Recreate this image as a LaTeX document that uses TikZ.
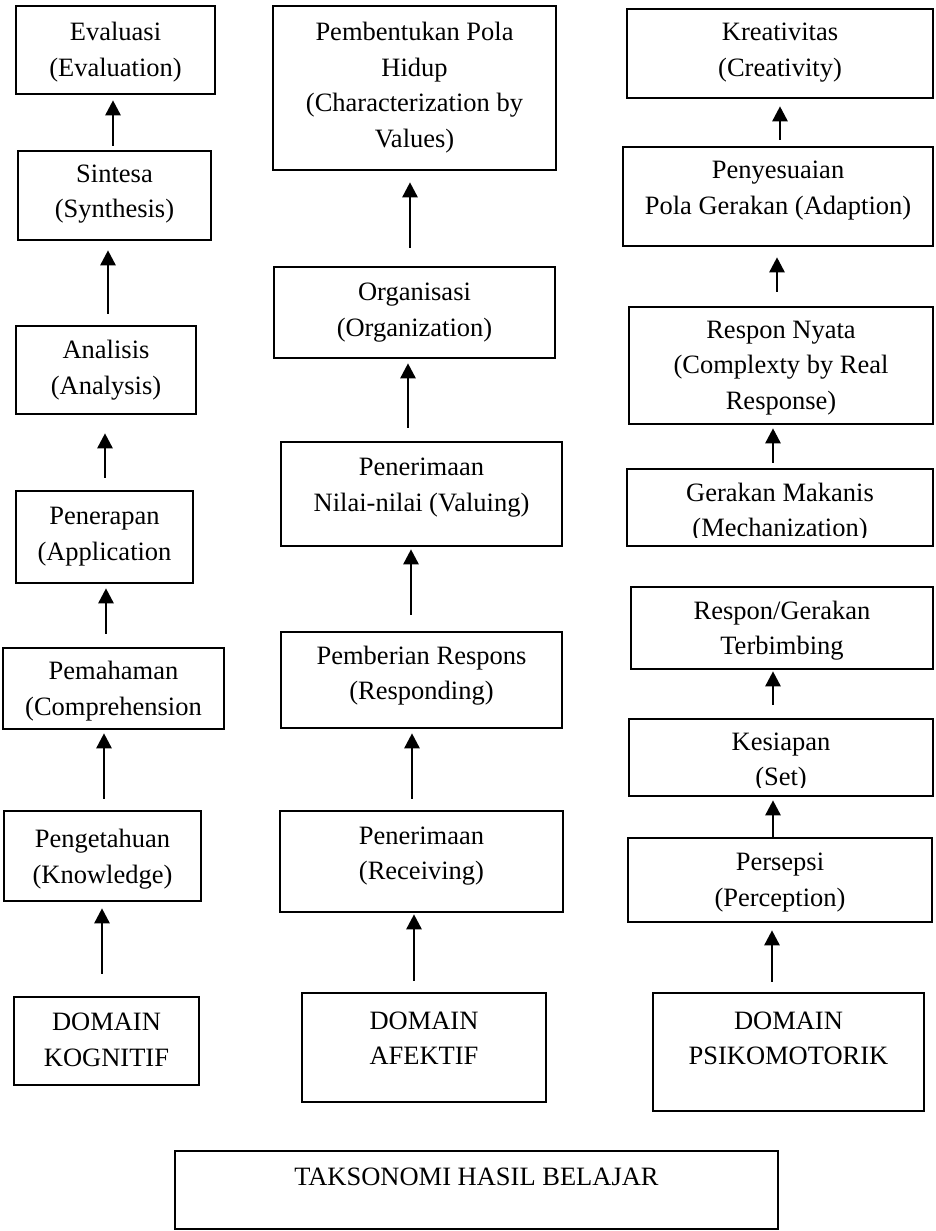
\documentclass[tikz,border=0pt]{standalone}
\usepackage{fontspec}
\setmainfont{Liberation Serif}
\usetikzlibrary{arrows.meta,fit}
\begin{document}
\begin{tikzpicture}[x=1pt,y=-1pt,
  boxst/.style={draw=black, line width=2.6pt, inner sep=0pt},
  txt/.style={inner sep=0pt, align=center, font=\fontsize{26.5}{35.5}\selectfont},
  arr/.style={line width=2.6pt, -{Triangle[length=15pt,width=15pt]}}]
\useasboundingbox (0,0) rectangle (935,1231);
% ---------- column 1 ----------
\node[boxst, fit={(16,6) (215,94)}] (eva) {};
\node[boxst, fit={(18,151) (211,240)}] (sin) {};
\node[boxst, fit={(16,326) (196,414)}] (ana) {};
\node[boxst, fit={(16,491) (193,583)}] (pen) {};
\node[boxst, fit={(3,648) (224,729)}] (pem) {};
\node[boxst, fit={(4,811) (201,901)}] (pgt) {};
\node[boxst, fit={(14,997) (199,1085)}] (dk) {};
\node[txt] (evat) at (115.5,52) {Evaluasi\\(Evaluation)};
\node[txt] (sint) at (114.5,194) {Sintesa\\(Synthesis)};
\node[txt] (anat) at (106,370) {Analisis\\(Analysis)};
\node[txt] (pent) at (104.5,536.5) {Penerapan\\(Application};
\node[txt] (pemt) at (113.5,691) {Pemahaman\\(Comprehension};
\node[txt] (pgtt) at (102.5,859) {Pengetahuan\\(Knowledge)};
\node[txt] (dkt) at (106.5,1040) {DOMAIN\\KOGNITIF};
% ---------- column 2 ----------
\node[boxst, fit={(273,6) (556,170)}] (pbh) {};
\node[boxst, fit={(274,267) (555,358)}] (org) {};
\node[boxst, fit={(281,442) (562,546)}] (pnn) {};
\node[boxst, fit={(281,632) (562,728)}] (pbr) {};
\node[boxst, fit={(280,811) (563,912)}] (prm) {};
\node[boxst, fit={(302,993) (546,1102)}] (da) {};
\node[txt] (pbht) at (414.5,87.5) {Pembentukan Pola\\Hidup\\(Characterization by\\Values)};
\node[txt] (orgt) at (414.5,312.5) {Organisasi\\(Organization)};
\node[txt] (pnnt) at (421.5,487.5) {Penerimaan\\Nilai-nilai (Valuing)};
\node[txt] (pbrt) at (421.5,675.5) {Pemberian Respons\\(Responding)};
\node[txt] (prmt) at (421.5,856) {Penerimaan\\(Receiving)};
\node[txt] (dat) at (424,1038) {DOMAIN\\AFEKTIF};
% ---------- column 3 ----------
\node[boxst, fit={(627,9) (933,98)}] (kre) {};
\node[boxst, fit={(623,147) (933,246)}] (pny) {};
\node[boxst, fit={(629,307) (933,424)}] (rn) {};
\node[boxst, fit={(627,469) (933,546)}] (gm) {};
\node[boxst, fit={(631,587) (933,669)}] (rg) {};
\node[boxst, fit={(629,719) (933,796)}] (ks) {};
\node[boxst, fit={(628,838) (932,922)}] (ps) {};
\node[boxst, fit={(653,993) (924,1111)}] (dp) {};
\node[txt] (kret) at (780,52.5) {Kreativitas\\(Creativity)};
\node[txt] (pnyt) at (778,190.5) {Penyesuaian\\Pola Gerakan (Adaption)};
\node[txt] (rnt) at (781,368) {Respon Nyata\\(Complexty by Real\\Response)};
\begin{scope}
  \clip (627,469) rectangle (933,537);
  \node[txt, anchor=north] (gmt) at (780,482.5) {Gerakan Makanis\\(Mechanization)};
\end{scope}
\node[txt] (rgt) at (782,630.5) {Respon/Gerakan\\Terbimbing};
\begin{scope}
  \clip (629,719) rectangle (933,787);
  \node[txt, anchor=north] (kst) at (781,732.5) {Kesiapan\\(Set)};
\end{scope}
\node[txt] (pst) at (780,882.5) {Persepsi\\(Perception)};
\node[txt] (dpt) at (788.5,1038.5) {DOMAIN\\PSIKOMOTORIK};
% ---------- bottom ----------
\node[boxst, fit={(175,1151) (778,1229)}] (tak) {};
\node[txt, anchor=base] (takt) at (476.5,1185.5) {TAKSONOMI HASIL BELAJAR};
% ---------- arrows ----------
\draw[arr] ([xshift=-1.5pt,yshift=4pt]sin.north) -- ([xshift=-2.5pt,yshift=-5pt]eva.south);
\draw[arr] ([xshift=2pt,yshift=11pt]ana.north) -- ([xshift=-6.5pt,yshift=-9pt]sin.south);
\draw[arr] ([xshift=0.5pt,yshift=12pt]pen.north) -- ([xshift=-1pt,yshift=-18pt]ana.south);
\draw[arr] ([xshift=-7.5pt,yshift=13pt]pem.north) -- ([xshift=1.5pt,yshift=-4pt]pen.south);
\draw[arr] ([xshift=1.5pt,yshift=11pt]pgt.north) -- ([xshift=-9.5pt,yshift=-3pt]pem.south);
\draw[arr] ([xshift=-4.5pt,yshift=22pt]dk.north) -- ([xshift=-0.5pt,yshift=-6pt]pgt.south);
\draw[arr] ([xshift=-4.5pt,yshift=18pt]org.north) -- ([xshift=-4.5pt,yshift=-11pt]pbh.south);
\draw[arr] ([xshift=-13.5pt,yshift=13pt]pnn.north) -- ([xshift=-6.5pt,yshift=-4pt]org.south);
\draw[arr] ([xshift=-10.5pt,yshift=16pt]pbr.north) -- ([xshift=-10.5pt,yshift=-2pt]pnn.south);
\draw[arr] ([xshift=-9.5pt,yshift=11pt]prm.north) -- ([xshift=-9.5pt,yshift=-4pt]pbr.south);
\draw[arr] ([xshift=-10pt,yshift=11pt]da.north) -- ([xshift=-7.5pt,yshift=-1pt]prm.south);
\draw[arr] ([xshift=2pt,yshift=6pt]pny.north) -- ([xshift=0pt,yshift=-7pt]kre.south);
\draw[arr] ([xshift=-4pt,yshift=14pt]rn.north) -- ([xshift=-1pt,yshift=-10pt]pny.south);
\draw[arr] ([xshift=-7pt,yshift=5pt]gm.north) -- ([xshift=-8pt,yshift=-3pt]rn.south);
\draw[arr] ([xshift=-8pt,yshift=13pt]ks.north) -- ([xshift=-9pt,yshift=-1pt]rg.south);
\draw[arr] ([xshift=-7pt,yshift=0pt]ps.north) -- ([xshift=-8pt,yshift=-3pt]ks.south);
\draw[arr] ([xshift=-16.5pt,yshift=10pt]dp.north) -- ([xshift=-8pt,yshift=-7pt]ps.south);
\end{tikzpicture}
\end{document}
